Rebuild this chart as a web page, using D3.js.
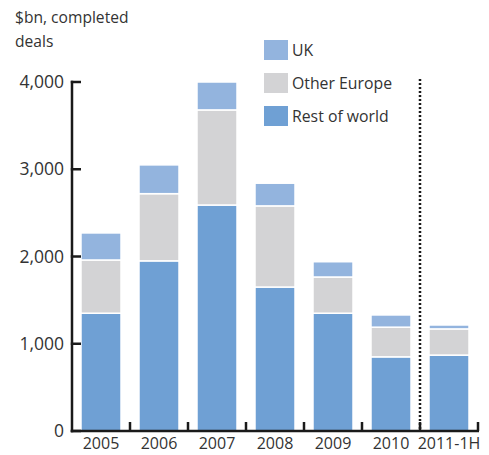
<!DOCTYPE html>
<html><head><meta charset="utf-8">
<script src="https://cdn.jsdelivr.net/npm/d3@7"></script>
<style>body{margin:0;background:#fff}svg{display:block}text{font-family:"Open Sans",sans-serif;fill:#333}</style>
</head><body><svg id="c" width="489" height="455"></svg>
<script>
const categories = ["2005","2006","2007","2008","2009","2010","2011-1H"];
const restOfWorld = [1350,1950,2590,1650,1350,850,870];
const otherEurope = [610,770,1090,930,415,340,300];
const uk = [310,330,320,260,175,140,45];
const yTicks = [0,1000,2000,3000,4000];
const seriesNames = ["Rest of world","Other Europe","UK"];
const colors = {"UK":"#93b4de","Other Europe":"#d3d3d5","Rest of world":"#6fa0d4"};

const svg = d3.select("#c");
const x = d3.scaleBand().domain(categories).range([72,478]).paddingInner(0.31).paddingOuter(0.155);
const y = d3.scaleLinear().domain([0,4000]).range([431,82]);

const rows = categories.map((c,i)=>({cat:c,"Rest of world":restOfWorld[i],"Other Europe":otherEurope[i],"UK":uk[i]}));
const stack = d3.stack().keys(seriesNames)(rows);

svg.append("g").selectAll("g").data(stack).join("g")
  .attr("fill",d=>colors[d.key])
  .selectAll("rect").data(d=>d).join("rect")
  .attr("x",d=>x(d.data.cat)).attr("width",x.bandwidth())
  .attr("y",d=>y(d[1])).attr("height",d=>y(d[0])-y(d[1]))
  .attr("stroke","#fff").attr("stroke-width",1.5);

const ax = svg.append("g");
function ln(x1,y1,x2,y2){
  ax.append("line").attr("x1",x1).attr("y1",y1).attr("x2",x2).attr("y2",y2)
    .attr("stroke","#1a1a1a").attr("stroke-width",2.5);
}
// y axis
ln(72,y(4000)-1.2,72,y(0)+1.2);
yTicks.forEach(t=>ln(70.8,y(t),81,y(t)));
svg.append("g").selectAll("text").data(yTicks).join("text")
  .attr("x",64).attr("y",d=>y(d)+6).attr("text-anchor","end")
  .attr("font-size",17.5).text(d=>d3.format(",")(d));

// x axis
ln(70.8,y(0),479,y(0));
const step = x.step();
categories.forEach(c=>{
  const bx = x(c)+x.bandwidth()+(step-x.bandwidth())/2;
  ln(bx,y(0),bx,y(0)-9);
});
svg.append("g").selectAll("text").data(categories).join("text")
  .attr("x",d=>x(d)+x.bandwidth()/2).attr("y",449).attr("text-anchor","middle")
  .attr("font-size",16).text(d=>d);

// dotted separator
const sepX = x("2011-1H") - (step-x.bandwidth())/2;
svg.append("line").attr("x1",sepX).attr("x2",sepX).attr("y1",79).attr("y2",y(0))
  .attr("stroke","#1a1a1a").attr("stroke-width",2.5).attr("stroke-dasharray","2,2");

// title
svg.append("text").attr("x",15).attr("y",23).attr("font-size",15.6).text("$bn, completed");
svg.append("text").attr("x",15).attr("y",47).attr("font-size",15.6).text("deals");

// legend
const legendOrder = ["UK","Other Europe","Rest of world"];
const lg = svg.append("g").selectAll("g").data(legendOrder).join("g")
  .attr("transform",(d,i)=>`translate(264,${40+i*33})`);
lg.append("rect").attr("width",24).attr("height",20).attr("fill",d=>colors[d]);
lg.append("text").attr("x",28).attr("y",16).attr("font-size",15.8).text(d=>d);
</script></body></html>
